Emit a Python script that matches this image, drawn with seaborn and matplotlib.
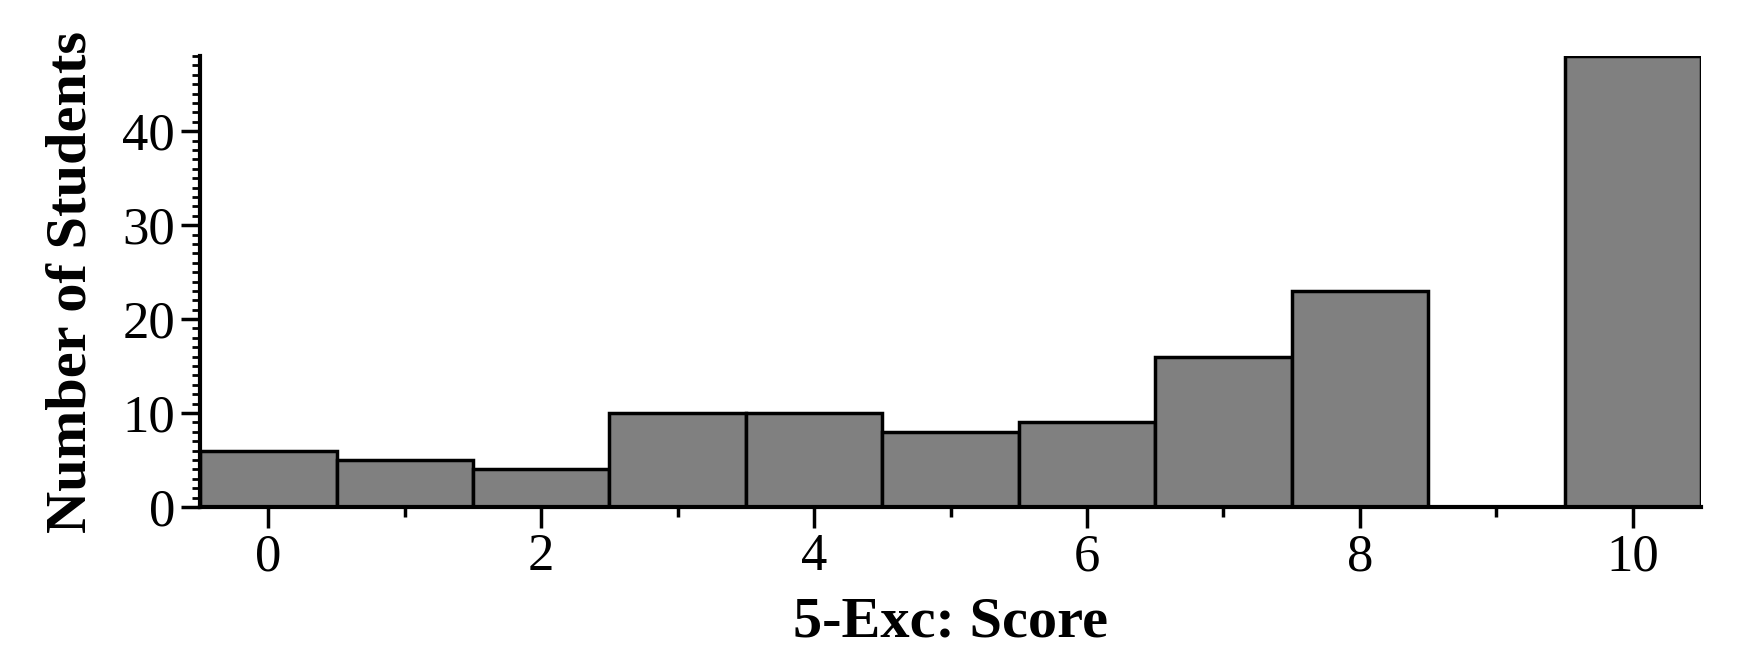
import matplotlib
matplotlib.use("Agg")
import matplotlib.pyplot as plt
from matplotlib.ticker import MultipleLocator
import numpy as np
import seaborn as sns

# ---------- data ----------
scores = [0, 1, 2, 3, 4, 5, 6, 7, 8, 9, 10]
students = [6, 5, 4, 10, 10, 8, 9, 16, 23, 0, 48]

x_label = "5-Exc: Score"
y_label = "Number of Students"

# ---------- style ----------
sns.set_style("ticks")
plt.rcParams.update({
    "font.family": ["Liberation Serif", "DejaVu Serif"],
    "text.color": "black",
    "axes.labelcolor": "black",
    "xtick.color": "black",
    "ytick.color": "black",
})

fig = plt.figure(figsize=(17.58, 6.72), dpi=100)
ax = fig.add_axes([0.1138, 0.2455, 0.8538, 0.6712])

sns.histplot(x=scores, weights=students, discrete=True, ax=ax,
             color="#808080", alpha=1.0, edgecolor="black", linewidth=2.5)

ax.set_xlim(-0.5, 10.5)
ax.set_ylim(0, 48)
ax.set_xticks([0, 2, 4, 6, 8, 10])
ax.xaxis.set_minor_locator(MultipleLocator(1))
ax.set_yticks([0, 10, 20, 30, 40])
ax.yaxis.set_minor_locator(MultipleLocator(1))

ax.tick_params(axis="both", which="major", direction="out", width=2.5,
               labelsize=38, labelcolor="black", color="black")
ax.tick_params(axis="x", which="major", length=15, pad=4)
ax.tick_params(axis="x", which="minor", length=7, width=2.5, direction="out")
ax.tick_params(axis="y", which="major", length=14, pad=4)
ax.tick_params(axis="y", which="minor", length=6, width=2, direction="out")

ax.set_xlabel(x_label, fontsize=42, fontweight="bold", labelpad=11, color="black")
ax.set_ylabel(y_label, fontsize=42, fontweight="bold", labelpad=18, color="black")

for side in ["top", "right"]:
    ax.spines[side].set_visible(False)
for side in ["left", "bottom"]:
    ax.spines[side].set_linewidth(3)
    ax.spines[side].set_color("black")

fig.savefig("out.png", dpi=100)
